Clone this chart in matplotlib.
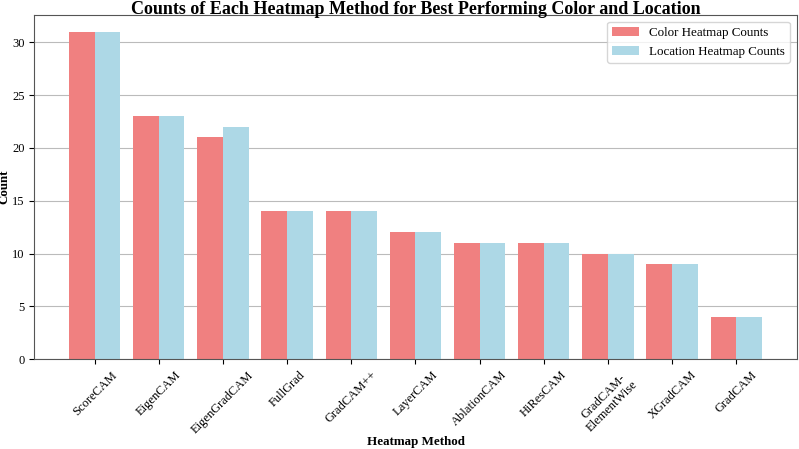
import matplotlib.pyplot as plt
import numpy as np

plt.rcParams['font.family'] = ['Liberation Serif', 'DejaVu Serif']

methods = ["ScoreCAM", "EigenCAM", "EigenGradCAM", "FullGrad", "GradCAM++", "LayerCAM",
           "AblationCAM", "HiResCAM", "GradCAM-\nElementWise", "XGradCAM", "GradCAM"]
color_counts = [31, 23, 21, 14, 14, 12, 11, 11, 10, 9, 4]
location_counts = [31, 23, 22, 14, 14, 12, 11, 11, 10, 9, 4]

x = np.arange(len(methods))
width = 0.4

fig, ax = plt.subplots(figsize=(7.99, 4.49), dpi=100)
ax.bar(x - width / 2, color_counts, width, color="lightcoral", label="Color Heatmap Counts")
ax.bar(x + width / 2, location_counts, width, color="lightblue", label="Location Heatmap Counts")

ax.set_xticks(x)
ax.set_xticklabels(methods, rotation=45, fontsize=9, linespacing=1.1)
ax.tick_params(axis="y", labelsize=9)
ax.set_xlabel("Heatmap Method", fontsize=9.4, fontweight="bold")
ax.set_ylabel("Count", fontsize=9.4, fontweight="bold")
ax.xaxis.set_label_coords(0.5, -0.224)
ax.yaxis.set_label_coords(-0.031, 0.5)
ax.set_title("Counts of Each Heatmap Method for Best Performing Color and Location",
             fontsize=13, fontweight="bold", y=1.004, pad=0)
ax.yaxis.grid(True, color="#bbbbbb", linewidth=0.8)
ax.set_axisbelow(True)
for s in ax.spines.values():
    s.set_color("#555555")
ax.legend(loc="upper right", fontsize=9.4)

fig.subplots_adjust(left=0.043, right=0.997, top=0.966, bottom=0.2)
fig.savefig("out.png")
